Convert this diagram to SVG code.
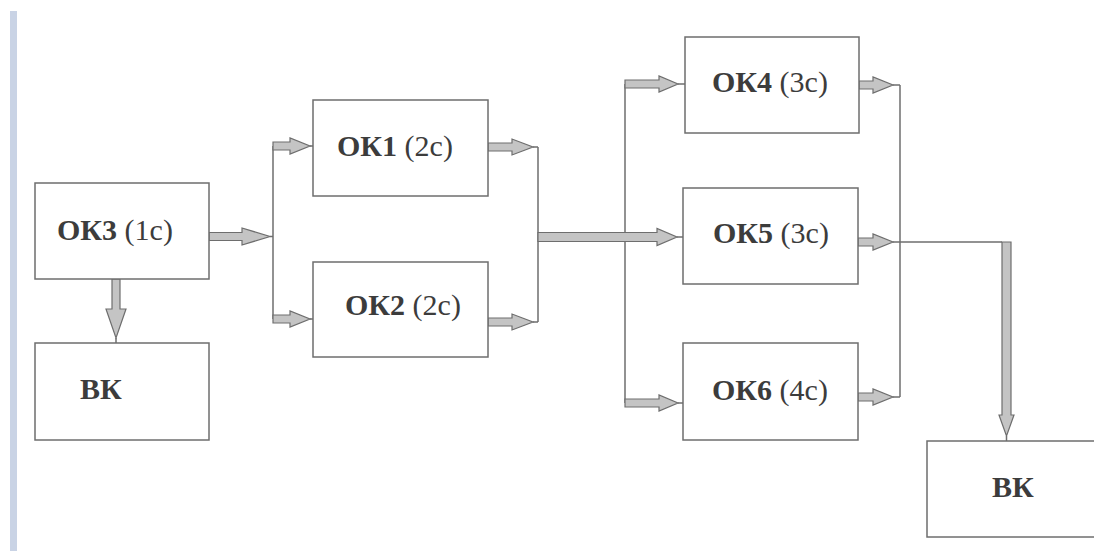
<svg xmlns="http://www.w3.org/2000/svg" width="1094" height="551" viewBox="0 0 1094 551">
<style>
.box{fill:#ffffff;stroke:#6e6e6e;stroke-width:1.5}
.arr{fill:#c4c4c4;stroke:#6e6e6e;stroke-width:1.2;stroke-linejoin:miter}
.ln{fill:none;stroke:#6e6e6e;stroke-width:1.5}
text{font-family:"Liberation Serif","Times New Roman",serif;font-size:30px;fill:#3c3c3c}
.b{font-weight:bold}
</style>
<rect x="0" y="0" width="1094" height="551" fill="#ffffff"/>
<rect x="10" y="11" width="7" height="540" fill="#c9d3e5"/>
<g id="connectors">
<polygon class="arr" points="209,232.5 242,232.5 242,228 270,236.5 242,245 242,240.5 209,240.5"/>
<polyline class="ln" points="270,236.5 273,236.5"/>
<polyline class="ln" points="273,146 273,319"/>
<polygon class="arr" points="273,142 290,142 290,138 310,146 290,154 290,150 273,150"/>
<polyline class="ln" points="310,146 313,146"/>
<polygon class="arr" points="273,315 290,315 290,311 310,319 290,327 290,323 273,323"/>
<polyline class="ln" points="310,319 313,319"/>
<polygon class="arr" points="112,279 112,309 106,309 116,338 126,309 120,309 120,279"/>
<polyline class="ln" points="116,338 116,343"/>
<polygon class="arr" points="488,143 512,143 512,139 533,147 512,155 512,151 488,151"/>
<polyline class="ln" points="533,147 538,147"/>
<polygon class="arr" points="488,318 512,318 512,314 533,322 512,330 512,326 488,326"/>
<polyline class="ln" points="533,322 538,322"/>
<polyline class="ln" points="538,147 538,322"/>
<polyline class="ln" points="625,84 625,403"/>
<polygon class="arr" points="538,232.5 657,232.5 657,228.5 677,237 657,245.5 657,241.5 538,241.5"/>
<polyline class="ln" points="677,237 683,237"/>
<polygon class="arr" points="625,80 659,80 659,76 678,84 659,92 659,88 625,88"/>
<polyline class="ln" points="678,84 685,84"/>
<polygon class="arr" points="625,399 659,399 659,395 678,403 659,411 659,407 625,407"/>
<polyline class="ln" points="678,403 683,403"/>
<polygon class="arr" points="859,81 873,81 873,77 893,85 873,93 873,89 859,89"/>
<polyline class="ln" points="893,85 900,85"/>
<polygon class="arr" points="858,238 873,238 873,234 893,242 873,250 873,246 858,246"/>
<polyline class="ln" points="893,242 900,242"/>
<polygon class="arr" points="858,393 873,393 873,389 893,397 873,405 873,401 858,401"/>
<polyline class="ln" points="893,397 900,397"/>
<polyline class="ln" points="900,85 900,397"/>
<polyline class="ln" points="900,242 1002,242"/>
<polygon class="arr" points="1002,242 1011,242 1011,415 1014,415 1006.5,436 999,415 1002,415"/>
<polyline class="ln" points="1006.5,436 1006.5,441"/>
</g>
<g id="ok3">
<rect class="box" x="35" y="183" width="174" height="96"/>
<text x="57" y="240"><tspan class="b">ОК3</tspan> (1с)</text>
</g>
<g id="bk1">
<rect class="box" x="35" y="343" width="174" height="97"/>
<text class="b" x="80" y="399">ВК</text>
</g>
<g id="ok1">
<rect class="box" x="313" y="100" width="175" height="96"/>
<text x="337" y="156"><tspan class="b">ОК1</tspan> (2с)</text>
</g>
<g id="ok2">
<rect class="box" x="313" y="262" width="175" height="95"/>
<text x="345" y="315"><tspan class="b">ОК2</tspan> (2с)</text>
</g>
<g id="ok4">
<rect class="box" x="685" y="37" width="174" height="96"/>
<text x="712" y="92"><tspan class="b">ОК4</tspan> (3с)</text>
</g>
<g id="ok5">
<rect class="box" x="683" y="188" width="175" height="96"/>
<text x="713" y="243"><tspan class="b">ОК5</tspan> (3с)</text>
</g>
<g id="ok6">
<rect class="box" x="683" y="343" width="175" height="97"/>
<text x="712" y="400"><tspan class="b">ОК6</tspan> (4с)</text>
</g>
<g id="bk2">
<rect class="box" x="927" y="441" width="180" height="96"/>
<text class="b" x="992" y="497">ВК</text>
</g>
</svg>
